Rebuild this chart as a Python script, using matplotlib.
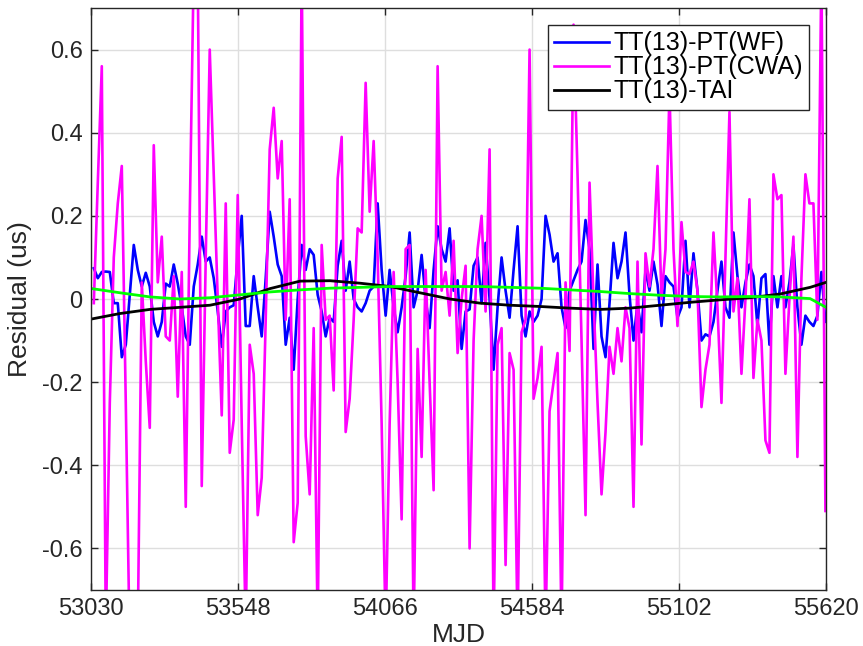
import numpy as np
import matplotlib
matplotlib.use('Agg')
from matplotlib import pyplot as plt

# Residual series, one value per epoch (us)
cwa = [
    -0.01, 0.28, 0.56, -0.8, -0.25, 0.10, 0.23, 0.32, -0.25, -0.85,
    -0.9, -0.8, 0.04, -0.15, -0.31, 0.37, 0.04, 0.15, -0.09, -0.10,
    0.055, -0.235, 0.065, -0.5, 0.2, 0.8, 0.8, -0.45, 0.1, 0.6,
    0.3, 0.0, -0.28, 0.23, -0.37, -0.29, 0.25, -0.3, -0.8, -0.11,
    -0.18, -0.52, -0.43, -0.05, 0.36, 0.46, 0.29, 0.38, -0.05, 0.24,
    -0.585, -0.49, 0.8, -0.33, -0.47, -0.07, -0.8, 0.13, -0.05, -0.04,
    -0.22,
    0.29, 0.39, -0.32, -0.24, -0.05, 0.17, 0.16, 0.52, 0.21, 0.38,
    0.1, -0.3, -0.8, -0.3, 0.065, -0.2, -0.53, 0.12, 0.13, -0.8,
    -0.12, -0.38, 0.07, -0.2, -0.46, 0.56, 0.02, 0.065, -0.04, 0.14,
    -0.13,
    0.0, 0.08, -0.6, -0.1, 0.12, 0.2, -0.03, 0.36, -0.8, -0.11,
    -0.07, -0.64, -0.13, -0.17, -0.8, -0.08, -0.05, 0.6, -0.24, -0.19,
    -0.115, -0.8, -0.27, -0.2, -0.13, -0.8, 0.04, -0.125, 0.66, 0.3,
    -0.1,
    -0.52, 0.28, 0.0, -0.25, -0.47, -0.32, -0.115, -0.18, -0.07, -0.15,
    -0.02, -0.07, -0.5, 0.09, -0.35, 0.11, 0.03, 0.12, 0.32, 0.0,
    0.12, 0.5, 0.12, -0.065, 0.185, 0.065, 0.06, 0.09, 0.02, -0.26,
    -0.17, -0.11, 0.16, -0.02, -0.25, 0.1, 0.45, -0.03, 0.05, -0.18,
    0.0, 0.24, -0.19, -0.05, -0.1, -0.34, -0.37, 0.30, 0.24, 0.25,
    -0.18, 0.0, 0.15, -0.38, 0.05, 0.30, 0.23, 0.23, -0.05, 0.8,
    -0.51,
]

wf = [
    0.074, 0.05, 0.065, 0.066, 0.065, -0.01, -0.01, -0.14, -0.11, 0.01,
    0.13, 0.07, 0.03, 0.063, 0.03, -0.055, -0.09, -0.055, 0.037, 0.03,
    0.083, 0.037, -0.02, -0.09, -0.11, 0.03, 0.083, 0.15, 0.09, 0.10,
    0.05, -0.03, -0.115, -0.03, -0.02, -0.015, 0.1, 0.2, -0.065, -0.065,
    0.055, -0.02, -0.09, 0.05, 0.21, 0.15, 0.083, 0.055, -0.11, -0.045,
    -0.17, 0.0, 0.13, 0.07, 0.12, 0.106, 0.01, -0.03, -0.09, -0.045,
    -0.055,
    0.08, 0.14, 0.02, 0.09, 0.0, -0.02, -0.03, -0.01, 0.02, 0.03,
    0.23, 0.07, -0.04, 0.07, -0.02, -0.08, -0.02, 0.055, 0.16, -0.02,
    0.02, 0.106, 0.0, -0.07, 0.07, 0.175, 0.12, 0.09, 0.17, 0.02,
    0.045,
    -0.12, -0.03, -0.025, 0.08, 0.10, -0.01, 0.135, 0.0, -0.17, -0.02,
    0.1, 0.02, -0.045, 0.07, 0.175, -0.04, -0.09, -0.03, -0.055, -0.04,
    0.0, 0.2, 0.155, 0.09, 0.11, -0.02, -0.07, 0.02, 0.045, 0.07,
    0.09,
    0.19, 0.12, -0.12, 0.083, -0.09, -0.14, -0.01, 0.135, 0.05, 0.09,
    0.16, 0.01, -0.1, -0.01, -0.08, 0.07, 0.02, 0.09, 0.035, -0.065,
    0.055, 0.04, 0.03, -0.045, -0.02, 0.14, -0.02, 0.11, 0.02, -0.10,
    -0.085, -0.09, -0.055, 0.02, 0.09, -0.02, -0.045, 0.16, 0.055, -0.02,
    0.04, 0.083, 0.055, -0.065, 0.05, 0.06, -0.11, 0.055, -0.02, 0.055,
    -0.02, 0.04, 0.13, -0.02, -0.11, -0.04, -0.055, -0.065, -0.04, 0.065,
    -0.055,
]

mjd = np.linspace(53040, 55618, len(cwa))

# Smooth TT(13)-TAI and the green reference curve
smooth_mjd = [53033, 53132, 53238, 53344, 53449, 53555, 53661, 53767,
              53872, 53978, 54084, 54189, 54295, 54401, 54507, 54612,
              54718, 54824, 54929, 55035, 55141, 55247, 55352, 55458,
              55564, 55620]
tai = [-0.048, -0.035, -0.025, -0.02, -0.015, 0.0, 0.025, 0.043,
       0.044, 0.038, 0.03, 0.015, 0.0, -0.01, -0.015, -0.018,
       -0.022, -0.025, -0.022, -0.015, -0.008, -0.002, 0.003, 0.012,
       0.028, 0.04]
ref = [0.025, 0.015, 0.005, 0.0, 0.003, 0.01, 0.017, 0.022,
       0.026, 0.028, 0.03, 0.03, 0.03, 0.03, 0.028, 0.026,
       0.022, 0.018, 0.013, 0.009, 0.006, 0.005, 0.006, 0.005,
       0.001, -0.02]

xticks = [53030, 53548, 54066, 54584, 55102, 55620]
yticks = [-0.6, -0.4, -0.2, 0, 0.2, 0.4, 0.6]
ytick_labels = ['-0.6', '-0.4', '-0.2', '0', '0.2', '0.4', '0.6']

plt.rcParams['font.family'] = ['Liberation Sans', 'DejaVu Sans']

fig = plt.figure(figsize=(8.63, 6.46), dpi=100)
ax = fig.add_axes([0.1054, 0.0867, 0.8517, 0.9009])

ax.plot(mjd, wf, color='#0000ff', lw=1.9, label='TT(13)-PT(WF)')
ax.plot(mjd, cwa, color='#ff00ff', lw=1.9, label='TT(13)-PT(CWA)')
ax.plot(smooth_mjd, tai, color='black', lw=2.0, label='TT(13)-TAI')
ax.plot(smooth_mjd, ref, color='#00ff00', lw=2.0)

ax.set_xlim(53030, 55620)
ax.set_ylim(-0.7, 0.7)
ax.set_xticks(xticks)
ax.set_xticklabels([str(t) for t in xticks])
ax.set_yticks(yticks)
ax.set_yticklabels(ytick_labels)

ax.grid(True, color='#dedede', lw=1.0)
ax.set_axisbelow(True)
ax.tick_params(direction='in', length=5, width=1.0, colors='#262626',
               labelsize=17, top=True, right=True)
ax.tick_params(axis='y', pad=6)
ax.tick_params(axis='x', pad=6)
for s in ax.spines.values():
    s.set_color('#262626')
    s.set_linewidth(1.0)

ax.set_xlabel('MJD', fontsize=19, color='#262626', labelpad=2)
ax.set_ylabel('Residual (us)', fontsize=19, color='#262626', labelpad=7)

leg = ax.legend(loc='upper right', bbox_to_anchor=(0.977, 0.9708),
                borderaxespad=0, fontsize=18, frameon=True, fancybox=False,
                edgecolor='#262626', framealpha=1, handlelength=2.2,
                handletextpad=0.17, labelspacing=0.0, borderpad=0.25)
leg.get_frame().set_linewidth(1.0)

fig.savefig('out.png', dpi=100)
